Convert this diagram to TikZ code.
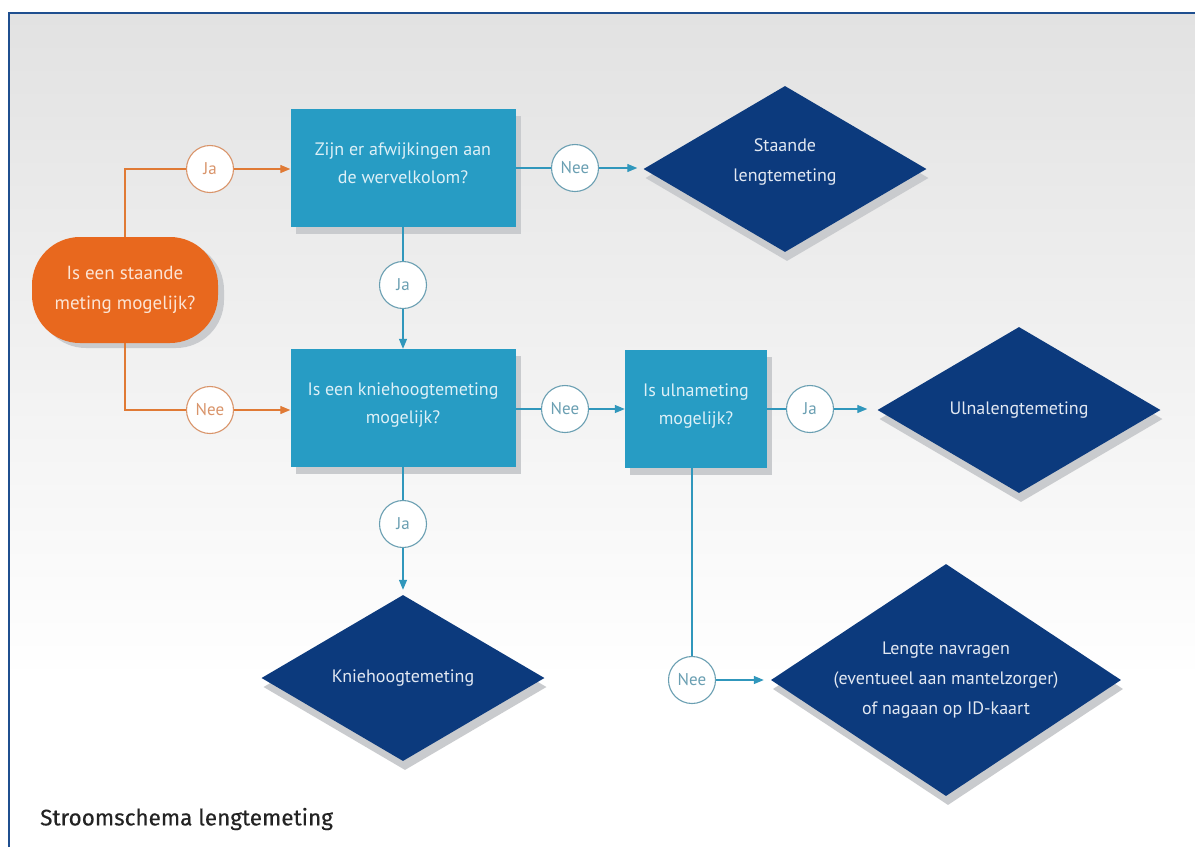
\documentclass[tikz,border=0pt]{standalone}
\usepackage{fontspec}
\setmainfont{PT Sans}
\newfontfamily\titlefont[FakeBold=0.4]{Fira Sans}
\usetikzlibrary{shapes.geometric,shadows,arrows.meta,calc}
\definecolor{bgray}{HTML}{E2E2E2}
\definecolor{frameblue}{HTML}{1F4F8F}
\definecolor{orangefill}{HTML}{E8681E}
\definecolor{orangeline}{HTML}{E07A35}
\definecolor{orangecirc}{HTML}{D9946A}
\definecolor{orangetext}{HTML}{FCE4D4}
\definecolor{tealfill}{HTML}{279CC4}
\definecolor{tealline}{HTML}{3097BC}
\definecolor{tealcirc}{HTML}{6A9FB2}
\definecolor{navy}{HTML}{0C3A7D}
\definecolor{shadowgray}{HTML}{C9CBCE}
\definecolor{boxtext}{HTML}{DDF0F7}
\definecolor{navytext}{HTML}{E2E8F2}
\definecolor{titlecol}{HTML}{232323}
\begin{document}
\begin{tikzpicture}[x=1pt,y=-1pt,
  qbox/.style={rectangle, fill=tealfill, text=boxtext, minimum width=225pt,
    minimum height=118pt, align=center, inner sep=0pt,
    font=\fontsize{18}{28}\selectfont, text depth=10pt,
    drop shadow={shadow xshift=5pt, shadow yshift=-7pt, fill=shadowgray, opacity=1}},
  res/.style={diamond, fill=navy, text=navytext, minimum width=283pt,
    minimum height=166pt, aspect=1.7, align=center, inner sep=0pt,
    font=\fontsize{18}{30}\selectfont,
    drop shadow={shadow xshift=2pt, shadow yshift=-9pt, fill=shadowgray, opacity=1}},
  pill/.style={rectangle, rounded corners=48pt, fill=orangefill, text=orangetext,
    minimum width=186pt, minimum height=106pt, align=center, inner sep=0pt,
    font=\fontsize{19}{30}\selectfont,
    drop shadow={shadow xshift=6pt, shadow yshift=-5pt, fill=shadowgray, opacity=1}},
  ocirc/.style={circle, draw=orangecirc, fill=white, line width=1.1pt,
    minimum size=47pt, inner sep=0pt, text=orangecirc, font=\fontsize{17}{18}\selectfont},
  tcirc/.style={circle, draw=tealcirc, fill=white, line width=1.1pt,
    minimum size=47pt, inner sep=0pt, text=tealcirc, font=\fontsize{17}{18}\selectfont},
  oline/.style={draw=orangeline, line width=1.2pt},
  tline/.style={draw=tealline, line width=1.2pt},
  oarrow/.style={-{Triangle[length=10pt,width=8pt]}},
  tarrow/.style={-{Triangle[length=10pt,width=8pt]}}
]
\useasboundingbox (0,0) rectangle (1195,847);
\fill[white] (0,0) rectangle (1195,847);
\shade[top color=bgray, bottom color=white] (9,13) rectangle (1195,680);
\draw[frameblue, line width=2.5pt] (9,847) -- (9,13) -- (1195,13);

% main nodes
\node[pill] (start) at (125,290) {Is een staande\\meting mogelijk?};
\node[qbox] (q1) at (403,168) {Zijn er afwijkingen aan\\de wervelkolom?};
\node[qbox] (q2) at (403,408) {Is een kniehoogtemeting\\mogelijk?};
\node[qbox, minimum width=142pt] (q3) at (696,409) {Is ulnameting\\mogelijk?};
\node[res, text depth=18pt] (r1) at (785,169) {Staande\\lengtemeting};
\node[res] (r2) at (1019,410) {Ulnalengtemeting};
\node[res] (r3) at (403,678) {Kniehoogtemeting};
\node[res, minimum width=350pt, minimum height=232pt, aspect=1.5] (r4) at (946,680)
  {Lengte navragen\\(eventueel aan mantelzorger)\\of nagaan op ID-kaart};

% answer circles
\node[ocirc] (o1) at (210,169) {Ja};
\node[ocirc] (o2) at (210,410) {Nee};
\node[tcirc] (t1) at (575,168) {Nee};
\node[tcirc] (t2) at (403,285) {Ja};
\node[tcirc] (t3) at (565,409) {Nee};
\node[tcirc] (t4) at (810,409) {Ja};
\node[tcirc] (t5) at (403,524) {Ja};
\node[tcirc] (t6) at (692,680) {Nee};

% connectors
\draw[oline] (start.north) |- (o1.west);
\draw[oline,oarrow] (o1.east) -- (o1.east -| q1.west);
\draw[oline] (start.south) |- (o2.west);
\draw[oline,oarrow] (o2.east) -- (o2.east -| q2.west);

\draw[tline] (t1.west -| q1.east) -- (t1.west);
\draw[tline,tarrow,shorten >=6pt] (t1.east) -- (t1.east -| r1.west);
\draw[tline] (q1.south) -- (t2.north);
\draw[tline,tarrow] (t2.south) -- (q2.north);
\draw[tline] (t3.west -| q2.east) -- (t3.west);
\draw[tline,tarrow] (t3.east) -- (t3.east -| q3.west);
\draw[tline] (t4.west -| q3.east) -- (t4.west);
\draw[tline,tarrow,shorten >=10pt] (t4.east) -- (t4.east -| r2.west);
\draw[tline] (q2.south) -- (t5.north);
\draw[tline,tarrow,shorten >=5pt] (t5.south) -- (r3.north);
\draw[tline] (t6 |- q3.south) -- (t6.north);
\draw[tline,tarrow,shorten >=7pt] (t6.east) -- (t6.east -| r4.west);

% title
\node[anchor=west, text=titlecol, font=\titlefont\fontsize{22.5}{26}\selectfont, inner sep=0pt]
  (title) at (40,819) {Stroomschema lengtemeting};
\end{tikzpicture}
\end{document}
